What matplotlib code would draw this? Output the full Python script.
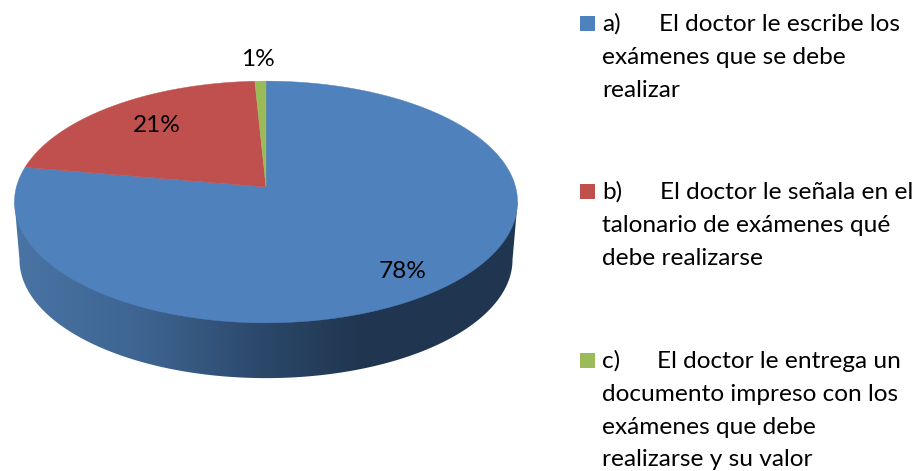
import numpy as np
import matplotlib
matplotlib.use("Agg")
import matplotlib.pyplot as plt
from matplotlib.patches import Polygon, Rectangle

plt.rcParams['font.family'] = ['Lato', 'DejaVu Sans']

shares = [77.7, 21.5, 0.8]
pct_labels = ["78%", "21%", "1%"]
pct_pos = [(403, 278), (157, 132), (258, 66)]
colors = ["#4f81bd", "#c0504d", "#9bbb59"]
prefixes = ["a)", "b)", "c)"]
first_lines = ["El doctor le escribe los", "El doctor le señala en el", "El doctor le entrega un"]
other_lines = [
    ["exámenes que se debe", "realizar"],
    ["talonario de exámenes qué", "debe realizarse"],
    ["documento impreso con los", "exámenes que debe", "realizarse y su valor"],
]
first_y = [31, 199, 368]
first_x = [659, 660, 657]

# Pie geometry in picture pixels
cx, cy = 266, 187
k = 0.124
a = 249.6
c = 119
depth = 58
bottom_scale = 0.98


def project(theta, scale=1.0, dy=0.0):
    # theta runs clockwise from the top of the tilted disc
    u = np.sin(theta)
    v = np.cos(theta)
    w = 1 + k * v
    return np.column_stack([cx + scale * a * u / w, cy + dy - scale * c * v / w])


fig = plt.figure(figsize=(9.2, 4.71), dpi=100)
ax = fig.add_axes([0, 0, 1, 1])
ax.set_xlim(0, 920)
ax.set_ylim(471, 0)
ax.axis("off")

# Side wall with the horizontal shading
right = np.arccos(-k)
front = np.linspace(right, 2 * np.pi - right, 200)
wall = np.vstack([project(front, bottom_scale, depth), project(np.array([2 * np.pi - right, right]))])
xs = np.arange(0, 920)
stops_x = [14, 140, 270, 360, 520]
stops = np.array([[0x49, 0x74, 0xa4], [0x3e, 0x65, 0x92], [0x2a, 0x46, 0x68], [0x20, 0x36, 0x50], [0x20, 0x36, 0x50]])
grad = np.stack([np.interp(xs, stops_x, stops[:, i]) for i in range(3)], axis=-1)[None, :, :] / 255
img = ax.imshow(grad, extent=(0, 920, 471, 0), aspect="auto", zorder=1)
clip = Polygon(wall, closed=True, transform=ax.transData, fc="none", ec="none")
ax.add_patch(clip)
img.set_clip_path(clip)
ax.set_xlim(0, 920)
ax.set_ylim(471, 0)

# Top of the pie, one wedge per share
start = 0.0
total = sum(shares)
for share, color in zip(shares, colors):
    end = start + 2 * np.pi * share / total
    arc = project(np.linspace(start, end, 200))
    ax.add_patch(Polygon(np.vstack([[cx, cy], arc]), closed=True, fc=color, ec=color, lw=0.3, zorder=2))
    start = end

for label, (x, y) in zip(pct_labels, pct_pos):
    ax.text(x, y, label, fontsize=17.6, color="black", ha="center", va="baseline", zorder=3)

# Legend, written line by line
line_h = 32.8
for i, color in enumerate(colors):
    y0 = first_y[i]
    ax.add_patch(Rectangle((580, y0 - 15), 15, 15, fc=color, ec="none"))
    ax.text(602, y0, prefixes[i], fontsize=17.6, ha="left", va="baseline")
    ax.text(first_x[i], y0, first_lines[i], fontsize=17.6, ha="left", va="baseline")
    for j, line in enumerate(other_lines[i]):
        ax.text(602, y0 + (j + 1) * line_h, line, fontsize=17.6, ha="left", va="baseline")

fig.savefig("out.png", dpi=100)
